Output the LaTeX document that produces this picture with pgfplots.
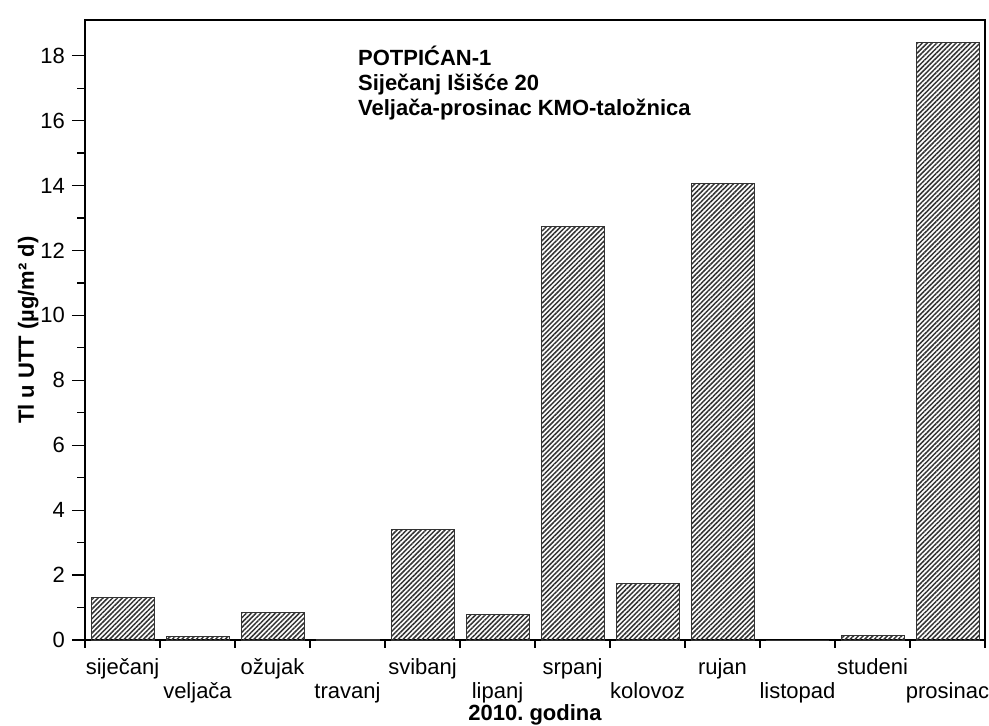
\documentclass[border=0pt]{standalone}
\usepackage{fontspec}
\setmainfont{Liberation Sans}
\usepackage{pgfplots}
\pgfplotsset{compat=1.18}
\usetikzlibrary{patterns.meta}

\newcommand{\low}[1]{\rule{0pt}{8pt}\\#1}

\begin{document}
\begin{tikzpicture}
\useasboundingbox (-42.5pt,-42.5pt) rectangle (452pt,320pt);
\begin{axis}[
    scale only axis,
    width=450pt, height=310pt,
    xmin=-0.5, xmax=11.5,
    ymin=0, ymax=19.1,
    ybar, bar width=0.84, bar shift=0pt,
    tick pos=left,
    tick align=outside,
    major tick length=6.5pt,
    minor tick length=3.8pt,
    xtick=data,
    major x tick style={draw=none},
    minor xtick={-0.5,0.5,...,11.5},
    xticklabels={siječanj,{\low{veljača}},ožujak,{\low{travanj}},svibanj,{\low{lipanj}},
                 srpanj,{\low{kolovoz}},rujan,{\low{listopad}},studeni,{\low{prosinac}}},
    xticklabel style={align=center, font=\fontsize{11}{12.3}\selectfont, yshift=1pt},
    ytick={0,2,...,18},
    minor ytick={1,3,...,17},
    yticklabel style={font=\fontsize{11}{13}\selectfont},
    /pgf/number format/assume math mode=true,
    xlabel={2010.\ godina},
    xlabel style={font=\bfseries\fontsize{11}{13}\selectfont, at={(axis description cs:0.5,-0.12)}, anchor=center},
    ylabel={Tl u UTT (µg/m² d)},
    ylabel style={font=\bfseries\fontsize{11}{13}\selectfont, at={(axis description cs:-0.063,0.5)}, anchor=center},
    axis line style={black, line width=0.7pt},
    every tick/.style={black, line width=0.6pt},
]
\addplot[draw=black!80, line width=0.5pt,
    pattern={Lines[angle=45,distance=1.7pt,line width=0.75pt]}, pattern color=black!80]
coordinates {
    (0,1.3) (1,0.12) (2,0.85) (3,0.03) (4,3.4) (5,0.8)
    (6,12.75) (7,1.75) (8,14.05) (9,0) (10,0.15) (11,18.4)
};
\node[anchor=north west, inner sep=0pt, align=left,
      font=\bfseries\fontsize{11}{12.3}\selectfont]
    at (rel axis cs:0.303,0.958)
    {POTPIĆAN-1\\Siječanj Išišće 20\\Veljača-prosinac KMO-taložnica};
\end{axis}
\end{tikzpicture}
\end{document}
